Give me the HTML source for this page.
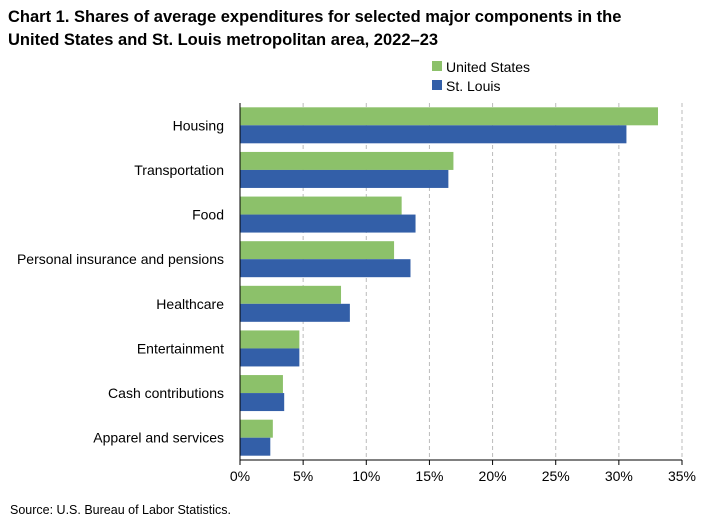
<!DOCTYPE html>
<html><head><meta charset="utf-8"><style>
body{margin:0;background:#fff;font-family:"Liberation Sans",Arial,sans-serif;}
#c{position:relative;width:707px;height:523px;overflow:hidden;}
.t{position:absolute;left:8px;top:6px;font-size:16.5px;font-weight:bold;line-height:23px;color:#000;}
svg text{font-family:"Liberation Sans",Arial,sans-serif;font-size:14px;fill:#000;}
</style></head><body>
<div id="c">
<div class="t">Chart 1. Shares of average expenditures for selected major components in the<br>United States and St. Louis metropolitan area, 2022–23</div>
<svg id="s" width="707" height="523" style="position:absolute;left:0;top:0">
<rect x="432" y="61" width="10" height="10" fill="#8CC16A"/>
<text x="446" y="72">United States</text>
<rect x="432" y="80" width="10" height="10" fill="#335FA8"/>
<text x="446" y="91">St. Louis</text>
<text x="10" y="514" style="font-size:12.5px">Source: U.S. Bureau of Labor Statistics.</text>
</svg>
</div>
<script>
const categories=["Housing","Transportation","Food","Personal insurance and pensions","Healthcare","Entertainment","Cash contributions","Apparel and services"];
const usValues=[33.1,16.9,12.8,12.2,8.0,4.7,3.4,2.6];
const stlValues=[30.6,16.5,13.9,13.5,8.7,4.7,3.5,2.4];
const tickValues=[0,5,10,15,20,25,30,35];
const tickLabels=["0%","5%","10%","15%","20%","25%","30%","35%"];
const NS="http://www.w3.org/2000/svg",svgEl=document.getElementById('s');
const x0=240,x1=682,yTop=103,yBot=460,band=(yBot-yTop)/categories.length,bh=18;
const xs=v=>x0+(v/35)*(x1-x0);
function mk(t,a){const e=document.createElementNS(NS,t);for(const k in a)e.setAttribute(k,a[k]);svgEl.appendChild(e);return e;}
tickValues.forEach((v,i)=>{
 if(v>0){const g=mk('line',{x1:xs(v),x2:xs(v),y1:yTop,y2:yBot,stroke:'#bbb','stroke-dasharray':'4,3'});
 
 }
 const tk=mk('line',{x1:xs(v),x2:xs(v),y1:yBot,y2:yBot+5,stroke:'#000'});
 
 
 const t=mk('text',{x:xs(v),y:yBot+21,'text-anchor':'middle'});t.textContent=tickLabels[i];
 
 
});
categories.forEach((c,i)=>{
 const cy=yTop+band*(i+0.5);
 const a=mk('rect',{x:x0,y:cy-bh,width:xs(usValues[i])-x0,height:bh,fill:'#8CC16A'});
 
 
 const b=mk('rect',{x:x0,y:cy,width:xs(stlValues[i])-x0,height:bh,fill:'#335FA8'});
 
 
 const t=mk('text',{x:224,y:cy+5,'text-anchor':'end'});t.textContent=c;
 
 
});
const ax=mk('line',{x1:x0,x2:x0,y1:yTop,y2:yBot,stroke:'#000'});


const bx=mk('line',{x1:x0,x2:x1,y1:yBot,y2:yBot,stroke:'#000'});


</script>
</body></html>
